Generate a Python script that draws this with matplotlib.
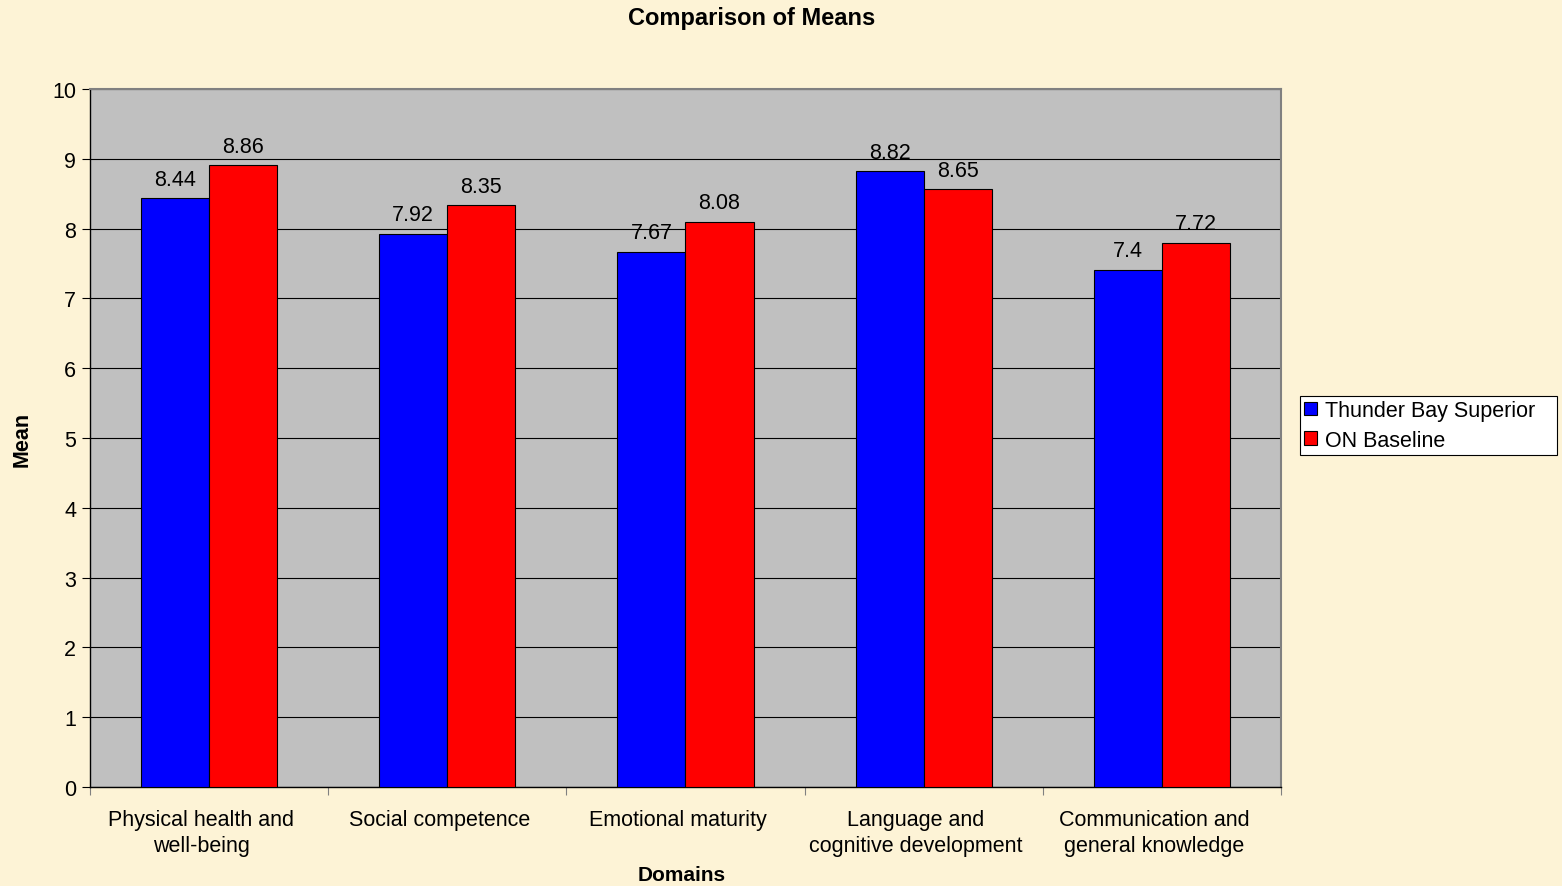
from matplotlib import pyplot as plt
from matplotlib import transforms
import numpy as np

plt.rcParams['font.family'] = ['Liberation Sans', 'DejaVu Sans']

domains = ['Physical health and\nwell-being', 'Social competence', 'Emotional maturity',
           'Language and\ncognitive development', 'Communication and\ngeneral knowledge']

# bar heights as drawn, and the data labels as printed
tbs_y = [8.44, 7.93, 7.67, 8.82, 7.41]
on_y = [8.91, 8.34, 8.10, 8.57, 7.80]
tbs_labels = ['8.44', '7.92', '7.67', '8.82', '7.4']
on_labels = ['8.86', '8.35', '8.08', '8.65', '7.72']

x_indexes = np.arange(len(domains))
width = 0.286
fs = 15.5

fig = plt.figure(figsize=(15.62, 8.87), dpi=100, facecolor='#fdf3d6')
ax = fig.add_axes([0.0576, 0.1116, 0.7625, 0.7869])
ax.set_facecolor('#c0c0c0')

b1 = ax.bar(x_indexes - width / 2, tbs_y, width=width, color='#0000ff', edgecolor='#000000',
            linewidth=0.8, label='Thunder Bay Superior', zorder=3)
b2 = ax.bar(x_indexes + width / 2, on_y, width=width, color='#ff0000', edgecolor='#000000',
            linewidth=0.8, label='ON Baseline', zorder=3)

for bars, labels in [(b1, tbs_labels), (b2, on_labels)]:
    for rect, lab in zip(bars, labels):
        ax.annotate(lab, (rect.get_x() + rect.get_width() / 2, rect.get_height()),
                    xytext=(0, 6), textcoords='offset points', ha='center', va='bottom',
                    fontsize=fs, zorder=4)

ax.set_xlim(-0.5, len(domains) - 0.5)
ax.set_ylim(0, 10)
ax.set_yticks(range(0, 11))
ax.set_xticks(np.arange(-0.5, len(domains), 1))
ax.set_xticklabels([])
ax.set_xticks(x_indexes, minor=True)
ax.set_xticklabels(domains, minor=True, fontsize=fs, linespacing=1.3)
ax.tick_params(axis='x', which='minor', length=0, pad=16)
ax.tick_params(axis='x', which='major', length=6, direction='out', color='#808080')
ax.tick_params(axis='y', length=6, direction='out', labelsize=fs, pad=4)

# category labels sit a little left of the group centre
shift = transforms.ScaledTranslation(-8 / 100, 0, fig.dpi_scale_trans)
for lbl in ax.get_xticklabels(minor=True):
    lbl.set_transform(lbl.get_transform() + shift)

ax.grid(True, axis='y', color='#000000', linewidth=0.8, zorder=1)
for s in ['top', 'right']:
    ax.spines[s].set_color('#808080')
    ax.spines[s].set_linewidth(1.5)
for s in ['left', 'bottom']:
    ax.spines[s].set_color('#000000')
    ax.spines[s].set_linewidth(1.0)

ax.set_ylabel('Mean', fontsize=fs, fontweight='bold', labelpad=14)
fig.text(0.4366, 0.0135, 'Domains', ha='center', va='center',
         fontsize=15, fontweight='bold')
fig.text(0.4814, 0.979, 'Comparison of Means', ha='center', va='center',
         fontsize=17, fontweight='bold')

leg = fig.legend(loc='upper left', bbox_to_anchor=(0.8323, 0.486, 0.1645, 0.0665),
                 mode='expand', fontsize=fs,
                 frameon=True, fancybox=False, edgecolor='#000000', framealpha=1,
                 handlelength=0.6, handleheight=0.6, handletextpad=0.35,
                 borderpad=0.2, labelspacing=0.4, borderaxespad=0)
leg.get_frame().set_linewidth(0.8)

plt.savefig('out.png', facecolor=fig.get_facecolor())
